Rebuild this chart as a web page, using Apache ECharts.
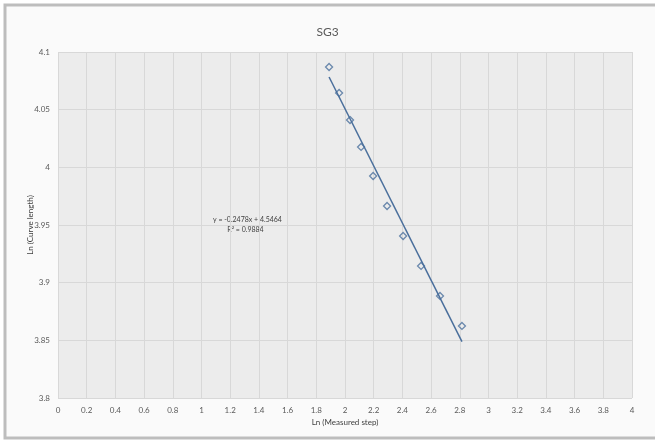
<!DOCTYPE html>
<html>
<head>
<meta charset="utf-8">
<script src="https://cdn.jsdelivr.net/npm/echarts@6/dist/echarts.min.js"></script>
<style>
  html, body { margin: 0; padding: 0; background: #fff; }
  #main { width: 655px; height: 441px; }
</style>
</head>
<body>
<div id="main"></div>
<script>
// measured points
var lnStep = [1.889, 1.959, 2.035, 2.112, 2.196, 2.293, 2.405, 2.530, 2.662, 2.815];
var lnLength = [4.087, 4.0645, 4.041, 4.0177, 3.9925, 3.9665, 3.9405, 3.9145, 3.8885, 3.8625];

// linear trend shown on the chart
var slope = -0.2478;
var intercept = 4.5464;
var rSquared = 0.9884;

var xMin = Math.min.apply(null, lnStep);
var xMax = Math.max.apply(null, lnStep);
var trend = [
  [xMin, slope * xMin + intercept],
  [xMax, slope * xMax + intercept]
];

var chart = echarts.init(document.getElementById('main'));
var font = 'Lato, "Open Sans", sans-serif';

var option = {
  backgroundColor: '#ffffff',
  animation: false,
  textStyle: { fontFamily: font },
  graphic: [
    {
      type: 'rect',
      shape: { x: 5, y: 5, width: 660, height: 433 },
      style: { fill: '#fafafa', stroke: '#bdbdbd', lineWidth: 3 },
      z: -10
    },
    {
      type: 'text',
      left: 213,
      top: 215,
      style: {
        text: 'y = ' + slope + 'x + ' + intercept + '\n        R² = ' + rSquared,
        fill: '#404040',
        font: '7px ' + font,
        lineHeight: 10
      }
    },
    {
      // y axis title, placed by hand so it sits close to the tick labels
      type: 'text',
      x: 30,
      y: 225,
      rotation: Math.PI / 2,
      style: {
        text: 'Ln (Curve length)',
        fill: '#404040',
        font: '8px ' + font,
        align: 'center',
        verticalAlign: 'middle'
      }
    }
  ],
  title: {
    text: 'SG3',
    left: 'center',
    top: 21,
    textStyle: { fontSize: 12, fontWeight: 'normal', color: '#595959', fontFamily: font }
  },
  grid: {
    left: 58,
    right: 23,
    top: 52,
    bottom: 43,
    show: true,
    backgroundColor: '#ececec',
    borderWidth: 0
  },
  xAxis: {
    type: 'value',
    min: 0,
    max: 4,
    interval: 0.2,
    name: 'Ln (Measured step)',
    nameLocation: 'middle',
    nameGap: 17,
    nameTextStyle: { fontSize: 8, color: '#404040', fontFamily: font },
    axisLine: { show: false },
    axisTick: { show: false },
    axisLabel: { fontSize: 8, color: '#595959', margin: 8 },
    splitLine: { lineStyle: { color: '#d8d8d8', width: 1 } }
  },
  yAxis: {
    type: 'value',
    min: 3.8,
    max: 4.1,
    interval: 0.05,
    axisLine: { show: false },
    axisTick: { show: false },
    axisLabel: { fontSize: 8, color: '#595959', margin: 8 },
    splitLine: { lineStyle: { color: '#d8d8d8', width: 1 } }
  },
  series: [
    {
      type: 'line',
      data: trend,
      symbol: 'none',
      lineStyle: { color: '#4a6f9c', width: 1.5 },
      z: 2
    },
    {
      type: 'scatter',
      data: lnStep.map(function (x, i) { return [x, lnLength[i]]; }),
      symbol: 'diamond',
      symbolSize: 7,
      itemStyle: { color: 'rgba(0,0,0,0)', borderColor: '#4a6f9c', borderWidth: 1.3 },
      z: 3
    }
  ]
};

chart.setOption(option);
</script>
</body>
</html>
